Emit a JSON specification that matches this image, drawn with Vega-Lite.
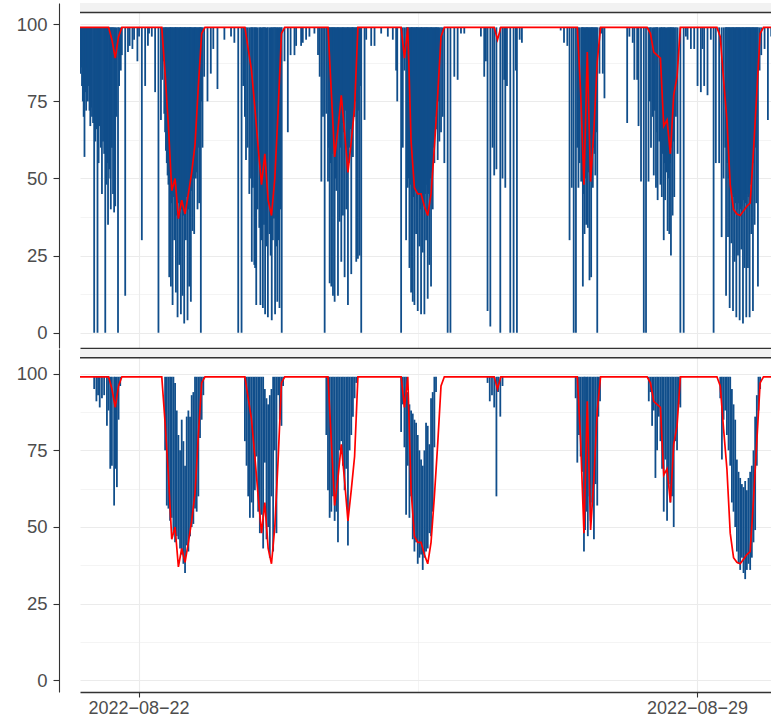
{
"$schema":"https://vega.github.io/schema/vega-lite/v6.json",
"background":"white",
"padding":{"left":16,"top":2,"right":0,"bottom":0},
"autosize":{"type":"pad"},
"spacing":1,
"bounds":"flush",
"resolve":{"scale":{"x":"independent","y":"independent"}},
"config":{"view":{"stroke":null},"axis":{"domainColor":"#333333","domainWidth":1.1,"tickColor":"#333333","tickWidth":1.1,"labelColor":"#4d4d4d","labelFont":"Liberation Sans","labelFontSize":18.5,"gridColor":"#ebebeb","title":null}},
"datasets":{
"red":[
{"t":"2022-08-21T06:24","v":99},{"t":"2022-08-21T15:00","v":99},{"t":"2022-08-21T16:00","v":95},{"t":"2022-08-21T17:00","v":89},{"t":"2022-08-21T18:00","v":96},{"t":"2022-08-21T19:00","v":99},
{"t":"2022-08-22T07:00","v":99},{"t":"2022-08-22T08:00","v":84},{"t":"2022-08-22T09:00","v":67},{"t":"2022-08-22T10:00","v":46},{"t":"2022-08-22T11:00","v":50},{"t":"2022-08-22T12:00","v":37},{"t":"2022-08-22T13:00","v":43},{"t":"2022-08-22T14:00","v":38.5},{"t":"2022-08-22T15:00","v":45},{"t":"2022-08-22T16:00","v":52},{"t":"2022-08-22T17:00","v":61},{"t":"2022-08-22T18:00","v":80},{"t":"2022-08-22T19:00","v":97},{"t":"2022-08-22T20:00","v":99},
{"t":"2022-08-23T08:00","v":99},{"t":"2022-08-23T09:00","v":92},{"t":"2022-08-23T10:00","v":85},{"t":"2022-08-23T11:00","v":73},{"t":"2022-08-23T12:00","v":60},{"t":"2022-08-23T13:00","v":48},{"t":"2022-08-23T14:00","v":58},{"t":"2022-08-23T15:00","v":43},{"t":"2022-08-23T16:00","v":38},{"t":"2022-08-23T17:00","v":50},{"t":"2022-08-23T18:00","v":72},{"t":"2022-08-23T19:00","v":97},{"t":"2022-08-23T20:00","v":99},
{"t":"2022-08-24T09:00","v":99},{"t":"2022-08-24T10:00","v":78},{"t":"2022-08-24T11:00","v":57},{"t":"2022-08-24T12:00","v":66},{"t":"2022-08-24T13:00","v":77},{"t":"2022-08-24T14:00","v":65},{"t":"2022-08-24T15:00","v":52},{"t":"2022-08-24T16:00","v":62},{"t":"2022-08-24T17:00","v":73},{"t":"2022-08-24T18:00","v":99},
{"t":"2022-08-25T07:00","v":99},{"t":"2022-08-25T08:00","v":89},{"t":"2022-08-25T09:00","v":99},{"t":"2022-08-25T10:00","v":62},{"t":"2022-08-25T11:00","v":47},{"t":"2022-08-25T12:00","v":45},{"t":"2022-08-25T13:00","v":45},{"t":"2022-08-25T14:00","v":41},{"t":"2022-08-25T15:00","v":38},{"t":"2022-08-25T16:00","v":45},{"t":"2022-08-25T17:00","v":60},{"t":"2022-08-25T18:00","v":77},{"t":"2022-08-25T19:00","v":96},{"t":"2022-08-25T20:00","v":99},
{"t":"2022-08-26T11:00","v":99},{"t":"2022-08-26T12:00","v":95},{"t":"2022-08-26T13:00","v":99},
{"t":"2022-08-27T12:00","v":99},{"t":"2022-08-27T13:00","v":78},{"t":"2022-08-27T14:00","v":48},{"t":"2022-08-27T15:00","v":91},{"t":"2022-08-27T16:00","v":49},{"t":"2022-08-27T17:00","v":66},{"t":"2022-08-27T18:00","v":88},{"t":"2022-08-27T19:00","v":99},
{"t":"2022-08-28T09:00","v":99},{"t":"2022-08-28T10:00","v":97},{"t":"2022-08-28T11:00","v":91},{"t":"2022-08-28T12:00","v":90},{"t":"2022-08-28T13:00","v":89},{"t":"2022-08-28T14:00","v":67},{"t":"2022-08-28T15:00","v":69},{"t":"2022-08-28T16:00","v":58},{"t":"2022-08-28T17:00","v":77},{"t":"2022-08-28T18:00","v":83},{"t":"2022-08-28T19:00","v":99},
{"t":"2022-08-29T06:00","v":99},{"t":"2022-08-29T07:00","v":96},{"t":"2022-08-29T08:00","v":82},{"t":"2022-08-29T09:00","v":69},{"t":"2022-08-29T10:00","v":48},{"t":"2022-08-29T11:00","v":40},{"t":"2022-08-29T12:00","v":38.5},{"t":"2022-08-29T13:00","v":38},{"t":"2022-08-29T14:00","v":39.5},{"t":"2022-08-29T15:00","v":41},{"t":"2022-08-29T16:00","v":42},{"t":"2022-08-29T17:00","v":59},{"t":"2022-08-29T18:00","v":78},{"t":"2022-08-29T19:00","v":97},{"t":"2022-08-29T20:00","v":99},{"t":"2022-08-29T22:34","v":99}
],
"p1":[
{"t":"2022-08-21T06:30","v":84},{"t":"2022-08-21T06:45","v":86},{"t":"2022-08-21T07:00","v":80},{"t":"2022-08-21T07:15","v":75},{"t":"2022-08-21T07:30","v":70},{"t":"2022-08-21T07:45","v":57},{"t":"2022-08-21T08:00","v":78},{"t":"2022-08-21T08:15","v":72},{"t":"2022-08-21T08:30","v":86},{"t":"2022-08-21T08:45","v":75},{"t":"2022-08-21T09:00","v":80},{"t":"2022-08-21T09:15","v":72},{"t":"2022-08-21T09:30","v":67},{"t":"2022-08-21T09:45","v":73},{"t":"2022-08-21T10:00","v":70},{"t":"2022-08-21T10:20","v":68},{"t":"2022-08-21T10:40","v":0},{"t":"2022-08-21T11:00","v":62},{"t":"2022-08-21T11:20","v":66},{"t":"2022-08-21T11:40","v":0},{"t":"2022-08-21T12:00","v":55},{"t":"2022-08-21T12:20","v":67},{"t":"2022-08-21T12:40","v":60},{"t":"2022-08-21T13:00","v":45},{"t":"2022-08-21T13:20","v":62},{"t":"2022-08-21T13:40","v":58},{"t":"2022-08-21T14:00","v":0},{"t":"2022-08-21T14:20","v":48},{"t":"2022-08-21T14:40","v":55},{"t":"2022-08-21T14:50","v":35},{"t":"2022-08-21T15:10","v":53},{"t":"2022-08-21T15:30","v":50},{"t":"2022-08-21T15:40","v":40},{"t":"2022-08-21T16:00","v":60},{"t":"2022-08-21T16:20","v":45},{"t":"2022-08-21T16:40","v":39},{"t":"2022-08-21T17:00","v":41},{"t":"2022-08-21T17:20","v":70},{"t":"2022-08-21T17:50","v":0},{"t":"2022-08-21T18:10","v":80},{"t":"2022-08-21T18:40","v":85},{"t":"2022-08-21T19:00","v":90},{"t":"2022-08-21T20:00","v":12},{"t":"2022-08-21T20:50","v":91},{"t":"2022-08-21T21:20","v":93},{"t":"2022-08-21T22:10","v":92},{"t":"2022-08-21T22:40","v":95},{"t":"2022-08-21T23:40","v":88},
{"t":"2022-08-22T00:10","v":96},{"t":"2022-08-22T01:00","v":30},{"t":"2022-08-22T02:00","v":80},{"t":"2022-08-22T02:50","v":93},{"t":"2022-08-22T03:10","v":97},{"t":"2022-08-22T04:00","v":96},{"t":"2022-08-22T05:00","v":78},{"t":"2022-08-22T06:00","v":0},{"t":"2022-08-22T06:45","v":69},{"t":"2022-08-22T07:10","v":82},{"t":"2022-08-22T07:30","v":88},
{"t":"2022-08-22T07:45","v":71},{"t":"2022-08-22T08:00","v":65},{"t":"2022-08-22T08:15","v":59},{"t":"2022-08-22T08:30","v":55},{"t":"2022-08-22T08:45","v":51},{"t":"2022-08-22T09:00","v":48},{"t":"2022-08-22T09:15","v":18},{"t":"2022-08-22T09:30","v":45},{"t":"2022-08-22T09:45","v":15},{"t":"2022-08-22T10:00","v":42},{"t":"2022-08-22T10:15","v":9},{"t":"2022-08-22T10:30","v":44},{"t":"2022-08-22T10:45","v":30},{"t":"2022-08-22T11:00","v":40},{"t":"2022-08-22T11:15","v":13},{"t":"2022-08-22T11:30","v":38},{"t":"2022-08-22T11:45","v":5},{"t":"2022-08-22T12:00","v":42},{"t":"2022-08-22T12:15","v":22},{"t":"2022-08-22T12:30","v":36},{"t":"2022-08-22T12:45","v":6},{"t":"2022-08-22T13:00","v":40},{"t":"2022-08-22T13:15","v":12},{"t":"2022-08-22T13:30","v":38},{"t":"2022-08-22T13:45","v":3},{"t":"2022-08-22T14:00","v":41},{"t":"2022-08-22T14:15","v":30},{"t":"2022-08-22T14:30","v":44},{"t":"2022-08-22T14:45","v":4},{"t":"2022-08-22T15:00","v":40},{"t":"2022-08-22T15:15","v":15},{"t":"2022-08-22T15:30","v":43},{"t":"2022-08-22T15:45","v":10},{"t":"2022-08-22T16:00","v":46},{"t":"2022-08-22T16:15","v":33},{"t":"2022-08-22T16:30","v":50},{"t":"2022-08-22T16:45","v":32},{"t":"2022-08-22T17:00","v":55},{"t":"2022-08-22T17:15","v":50},{"t":"2022-08-22T17:30","v":52},{"t":"2022-08-22T17:45","v":40},{"t":"2022-08-22T18:00","v":60},{"t":"2022-08-22T18:15","v":42},{"t":"2022-08-22T18:30","v":65},{"t":"2022-08-22T18:45","v":0},{"t":"2022-08-22T19:00","v":75},{"t":"2022-08-22T19:15","v":60},{"t":"2022-08-22T19:45","v":83},{"t":"2022-08-22T20:45","v":75},{"t":"2022-08-22T21:45","v":84},{"t":"2022-08-22T22:30","v":92},{"t":"2022-08-22T23:45","v":79},
{"t":"2022-08-23T01:50","v":95},{"t":"2022-08-23T03:50","v":96},{"t":"2022-08-23T04:50","v":94},{"t":"2022-08-23T06:00","v":0},{"t":"2022-08-23T07:00","v":0},{"t":"2022-08-23T07:30","v":80},{"t":"2022-08-23T08:00","v":70},{"t":"2022-08-23T08:20","v":56},{"t":"2022-08-23T08:50","v":60},{"t":"2022-08-23T09:20","v":45},{"t":"2022-08-23T09:50","v":50},{"t":"2022-08-23T10:05","v":23},{"t":"2022-08-23T10:25","v":47},{"t":"2022-08-23T10:50","v":22},{"t":"2022-08-23T11:05","v":21},{"t":"2022-08-23T11:25","v":9},{"t":"2022-08-23T11:50","v":40},{"t":"2022-08-23T12:20","v":34},{"t":"2022-08-23T12:40","v":9},{"t":"2022-08-23T13:00","v":30},{"t":"2022-08-23T13:25","v":8},{"t":"2022-08-23T13:45","v":35},{"t":"2022-08-23T14:05","v":6},{"t":"2022-08-23T14:30","v":28},{"t":"2022-08-23T14:55","v":5},{"t":"2022-08-23T15:25","v":32},{"t":"2022-08-23T15:45","v":25},{"t":"2022-08-23T16:05","v":4},{"t":"2022-08-23T16:25","v":30},{"t":"2022-08-23T16:45","v":37},{"t":"2022-08-23T17:05","v":6},{"t":"2022-08-23T17:25","v":28},{"t":"2022-08-23T17:45","v":10},{"t":"2022-08-23T18:05","v":30},{"t":"2022-08-23T18:25","v":8},{"t":"2022-08-23T18:45","v":40},{"t":"2022-08-23T19:05","v":0},{"t":"2022-08-23T19:55","v":88},{"t":"2022-08-23T20:55","v":65},{"t":"2022-08-23T21:45","v":90},{"t":"2022-08-23T22:55","v":90},{"t":"2022-08-23T23:25","v":93},
{"t":"2022-08-24T00:55","v":93},{"t":"2022-08-24T01:25","v":94},{"t":"2022-08-24T02:25","v":95},{"t":"2022-08-24T03:25","v":96},{"t":"2022-08-24T04:55","v":97},{"t":"2022-08-24T06:00","v":90},{"t":"2022-08-24T06:30","v":83},{"t":"2022-08-24T07:00","v":49},{"t":"2022-08-24T07:30","v":70},{"t":"2022-08-24T08:00","v":0},{"t":"2022-08-24T08:30","v":71},{"t":"2022-08-24T09:00","v":49},{"t":"2022-08-24T09:15","v":60},{"t":"2022-08-24T09:30","v":16},{"t":"2022-08-24T09:45","v":55},{"t":"2022-08-24T10:00","v":15},{"t":"2022-08-24T10:15","v":58},{"t":"2022-08-24T10:30","v":12},{"t":"2022-08-24T10:45","v":62},{"t":"2022-08-24T11:00","v":10},{"t":"2022-08-24T11:15","v":50},{"t":"2022-08-24T11:30","v":46},{"t":"2022-08-24T11:45","v":65},{"t":"2022-08-24T12:00","v":12},{"t":"2022-08-24T12:15","v":70},{"t":"2022-08-24T12:30","v":36},{"t":"2022-08-24T12:45","v":60},{"t":"2022-08-24T13:00","v":23},{"t":"2022-08-24T13:15","v":68},{"t":"2022-08-24T13:30","v":38},{"t":"2022-08-24T13:45","v":65},{"t":"2022-08-24T14:00","v":18},{"t":"2022-08-24T14:15","v":72},{"t":"2022-08-24T14:30","v":40},{"t":"2022-08-24T14:45","v":60},{"t":"2022-08-24T15:00","v":9},{"t":"2022-08-24T15:15","v":55},{"t":"2022-08-24T15:30","v":60},{"t":"2022-08-24T15:45","v":66},{"t":"2022-08-24T16:00","v":19},{"t":"2022-08-24T16:15","v":62},{"t":"2022-08-24T16:30","v":57},{"t":"2022-08-24T16:45","v":70},{"t":"2022-08-24T17:00","v":70},{"t":"2022-08-24T17:15","v":75},{"t":"2022-08-24T17:30","v":23},{"t":"2022-08-24T17:45","v":65},{"t":"2022-08-24T18:00","v":24},{"t":"2022-08-24T18:15","v":72},{"t":"2022-08-24T18:30","v":25},{"t":"2022-08-24T18:45","v":80},{"t":"2022-08-24T19:00","v":0},{"t":"2022-08-24T20:00","v":69},{"t":"2022-08-24T20:30","v":95},{"t":"2022-08-24T22:00","v":93},{"t":"2022-08-24T23:00","v":93},
{"t":"2022-08-25T01:00","v":97},{"t":"2022-08-25T03:00","v":96},{"t":"2022-08-25T04:30","v":95},{"t":"2022-08-25T05:30","v":85},{"t":"2022-08-25T05:50","v":75},{"t":"2022-08-25T07:00","v":0},{"t":"2022-08-25T07:30","v":60},{"t":"2022-08-25T08:00","v":85},{"t":"2022-08-25T08:30","v":30},{"t":"2022-08-25T08:45","v":55},{"t":"2022-08-25T09:00","v":47},{"t":"2022-08-25T09:15","v":50},{"t":"2022-08-25T09:30","v":21},{"t":"2022-08-25T09:45","v":48},{"t":"2022-08-25T10:00","v":13},{"t":"2022-08-25T10:15","v":45},{"t":"2022-08-25T10:30","v":10},{"t":"2022-08-25T10:45","v":44},{"t":"2022-08-25T11:00","v":9},{"t":"2022-08-25T11:15","v":46},{"t":"2022-08-25T11:30","v":32},{"t":"2022-08-25T11:45","v":42},{"t":"2022-08-25T12:00","v":7},{"t":"2022-08-25T12:15","v":45},{"t":"2022-08-25T12:30","v":28},{"t":"2022-08-25T12:45","v":40},{"t":"2022-08-25T13:00","v":6},{"t":"2022-08-25T13:15","v":44},{"t":"2022-08-25T13:30","v":26},{"t":"2022-08-25T13:45","v":42},{"t":"2022-08-25T14:00","v":6},{"t":"2022-08-25T14:15","v":45},{"t":"2022-08-25T14:30","v":30},{"t":"2022-08-25T14:45","v":48},{"t":"2022-08-25T15:00","v":11},{"t":"2022-08-25T15:15","v":45},{"t":"2022-08-25T15:30","v":22},{"t":"2022-08-25T15:45","v":50},{"t":"2022-08-25T16:00","v":15},{"t":"2022-08-25T16:15","v":52},{"t":"2022-08-25T16:30","v":40},{"t":"2022-08-25T16:45","v":60},{"t":"2022-08-25T17:00","v":55},{"t":"2022-08-25T17:15","v":70},{"t":"2022-08-25T17:30","v":66},{"t":"2022-08-25T17:45","v":72},{"t":"2022-08-25T18:00","v":56},{"t":"2022-08-25T18:15","v":75},{"t":"2022-08-25T18:30","v":62},{"t":"2022-08-25T19:00","v":65},{"t":"2022-08-25T19:30","v":70},{"t":"2022-08-25T20:00","v":55},{"t":"2022-08-25T21:00","v":0},{"t":"2022-08-25T21:50","v":0},{"t":"2022-08-25T23:00","v":83},
{"t":"2022-08-26T00:00","v":82},{"t":"2022-08-26T01:00","v":97},{"t":"2022-08-26T02:00","v":97},{"t":"2022-08-26T07:00","v":96},{"t":"2022-08-26T08:00","v":83},{"t":"2022-08-26T08:30","v":88},{"t":"2022-08-26T09:00","v":7},{"t":"2022-08-26T09:50","v":2},{"t":"2022-08-26T10:30","v":60},{"t":"2022-08-26T11:00","v":51},{"t":"2022-08-26T11:40","v":53},{"t":"2022-08-26T12:50","v":0},{"t":"2022-08-26T13:30","v":50},{"t":"2022-08-26T14:00","v":82},{"t":"2022-08-26T14:20","v":47},{"t":"2022-08-26T14:50","v":80},{"t":"2022-08-26T15:50","v":0},{"t":"2022-08-26T16:50","v":0},{"t":"2022-08-26T17:30","v":85},{"t":"2022-08-26T17:50","v":0},{"t":"2022-08-26T18:40","v":95},{"t":"2022-08-26T19:20","v":94},
{"t":"2022-08-27T07:00","v":98},{"t":"2022-08-27T08:00","v":94},{"t":"2022-08-27T09:00","v":93},{"t":"2022-08-27T09:40","v":30},{"t":"2022-08-27T10:20","v":47},{"t":"2022-08-27T10:55","v":0},{"t":"2022-08-27T11:35","v":0},{"t":"2022-08-27T12:00","v":60},{"t":"2022-08-27T12:20","v":47},{"t":"2022-08-27T12:40","v":55},{"t":"2022-08-27T13:10","v":49},{"t":"2022-08-27T13:25","v":50},{"t":"2022-08-27T13:40","v":15},{"t":"2022-08-27T13:55","v":45},{"t":"2022-08-27T14:10","v":32},{"t":"2022-08-27T14:25","v":50},{"t":"2022-08-27T14:40","v":35},{"t":"2022-08-27T14:55","v":48},{"t":"2022-08-27T15:10","v":34},{"t":"2022-08-27T15:25","v":52},{"t":"2022-08-27T15:40","v":17},{"t":"2022-08-27T15:55","v":50},{"t":"2022-08-27T16:10","v":18},{"t":"2022-08-27T16:25","v":55},{"t":"2022-08-27T16:40","v":47},{"t":"2022-08-27T16:55","v":60},{"t":"2022-08-27T17:10","v":58},{"t":"2022-08-27T17:25","v":51},{"t":"2022-08-27T17:40","v":65},{"t":"2022-08-27T18:00","v":0},{"t":"2022-08-27T18:40","v":84},{"t":"2022-08-27T19:10","v":97},{"t":"2022-08-27T19:40","v":84},{"t":"2022-08-27T20:10","v":76},
{"t":"2022-08-28T03:00","v":68},{"t":"2022-08-28T03:40","v":96},{"t":"2022-08-28T04:40","v":94},{"t":"2022-08-28T05:10","v":82},{"t":"2022-08-28T06:00","v":82},{"t":"2022-08-28T06:25","v":67},{"t":"2022-08-28T07:10","v":49},{"t":"2022-08-28T08:00","v":0},{"t":"2022-08-28T08:40","v":0},{"t":"2022-08-28T09:25","v":49},{"t":"2022-08-28T09:50","v":75},{"t":"2022-08-28T10:10","v":60},{"t":"2022-08-28T10:40","v":70},{"t":"2022-08-28T11:00","v":51},{"t":"2022-08-28T11:20","v":72},{"t":"2022-08-28T11:40","v":47},{"t":"2022-08-28T12:00","v":65},{"t":"2022-08-28T12:10","v":43},{"t":"2022-08-28T12:40","v":62},{"t":"2022-08-28T13:00","v":48},{"t":"2022-08-28T13:15","v":60},{"t":"2022-08-28T13:25","v":44},{"t":"2022-08-28T13:40","v":58},{"t":"2022-08-28T14:00","v":30},{"t":"2022-08-28T14:10","v":55},{"t":"2022-08-28T14:25","v":43},{"t":"2022-08-28T14:50","v":52},{"t":"2022-08-28T15:10","v":33},{"t":"2022-08-28T15:25","v":50},{"t":"2022-08-28T15:40","v":32},{"t":"2022-08-28T15:55","v":55},{"t":"2022-08-28T16:10","v":25},{"t":"2022-08-28T16:25","v":60},{"t":"2022-08-28T16:40","v":38},{"t":"2022-08-28T16:55","v":62},{"t":"2022-08-28T17:10","v":44},{"t":"2022-08-28T17:40","v":70},{"t":"2022-08-28T18:10","v":58},{"t":"2022-08-28T19:00","v":0},{"t":"2022-08-28T20:00","v":0},{"t":"2022-08-28T20:40","v":96},{"t":"2022-08-28T21:10","v":95},{"t":"2022-08-28T22:10","v":92},{"t":"2022-08-28T23:10","v":92},
{"t":"2022-08-29T00:10","v":80},{"t":"2022-08-29T01:10","v":78},{"t":"2022-08-29T01:40","v":92},{"t":"2022-08-29T02:10","v":80},{"t":"2022-08-29T03:10","v":77},{"t":"2022-08-29T04:10","v":95},{"t":"2022-08-29T05:00","v":0},{"t":"2022-08-29T05:40","v":55},{"t":"2022-08-29T06:40","v":55},{"t":"2022-08-29T07:25","v":31},{"t":"2022-08-29T08:00","v":50},{"t":"2022-08-29T08:30","v":60},{"t":"2022-08-29T08:45","v":12},{"t":"2022-08-29T09:00","v":55},{"t":"2022-08-29T09:20","v":31},{"t":"2022-08-29T09:30","v":50},{"t":"2022-08-29T09:50","v":8},{"t":"2022-08-29T10:00","v":48},{"t":"2022-08-29T10:20","v":29},{"t":"2022-08-29T10:30","v":45},{"t":"2022-08-29T10:50","v":7},{"t":"2022-08-29T11:00","v":44},{"t":"2022-08-29T11:20","v":23},{"t":"2022-08-29T11:30","v":42},{"t":"2022-08-29T11:50","v":5},{"t":"2022-08-29T12:00","v":40},{"t":"2022-08-29T12:20","v":25},{"t":"2022-08-29T12:30","v":42},{"t":"2022-08-29T12:50","v":4},{"t":"2022-08-29T13:00","v":40},{"t":"2022-08-29T13:20","v":27},{"t":"2022-08-29T13:30","v":41},{"t":"2022-08-29T13:50","v":3},{"t":"2022-08-29T14:00","v":43},{"t":"2022-08-29T14:20","v":21},{"t":"2022-08-29T14:30","v":42},{"t":"2022-08-29T14:50","v":5},{"t":"2022-08-29T15:00","v":45},{"t":"2022-08-29T15:20","v":21},{"t":"2022-08-29T15:30","v":44},{"t":"2022-08-29T15:50","v":5},{"t":"2022-08-29T16:00","v":48},{"t":"2022-08-29T16:20","v":32},{"t":"2022-08-29T16:30","v":50},{"t":"2022-08-29T16:50","v":7},{"t":"2022-08-29T17:00","v":55},{"t":"2022-08-29T17:20","v":35},{"t":"2022-08-29T17:30","v":60},{"t":"2022-08-29T17:50","v":42},{"t":"2022-08-29T18:00","v":70},{"t":"2022-08-29T18:20","v":15},{"t":"2022-08-29T18:50","v":85},{"t":"2022-08-29T19:20","v":90},{"t":"2022-08-29T20:20","v":92},{"t":"2022-08-29T21:20","v":69},{"t":"2022-08-29T22:20","v":96}
],
"p2":[
{"t":"2022-08-21T10:40","lo":95,"hi":99},{"t":"2022-08-21T11:20","lo":91,"hi":99},{"t":"2022-08-21T11:50","lo":93,"hi":99},{"t":"2022-08-21T12:20","lo":89,"hi":99},{"t":"2022-08-21T13:00","lo":92,"hi":99},{"t":"2022-08-21T13:40","lo":93,"hi":99},{"t":"2022-08-21T14:30","lo":83,"hi":99},{"t":"2022-08-21T15:00","lo":88,"hi":99},{"t":"2022-08-21T15:30","lo":69,"hi":99},{"t":"2022-08-21T16:00","lo":70,"hi":99},{"t":"2022-08-21T16:40","lo":57,"hi":99},{"t":"2022-08-21T17:00","lo":69,"hi":99},{"t":"2022-08-21T17:30","lo":63,"hi":99},{"t":"2022-08-21T18:00","lo":85,"hi":99},{"t":"2022-08-21T18:30","lo":96,"hi":99},
{"t":"2022-08-22T08:00","lo":75,"hi":99},{"t":"2022-08-22T08:30","lo":57,"hi":99},{"t":"2022-08-22T09:00","lo":56,"hi":99},{"t":"2022-08-22T09:30","lo":52,"hi":99},{"t":"2022-08-22T10:00","lo":53,"hi":99},{"t":"2022-08-22T10:30","lo":48,"hi":99},{"t":"2022-08-22T11:00","lo":45,"hi":97},{"t":"2022-08-22T11:30","lo":47,"hi":88},{"t":"2022-08-22T12:00","lo":46,"hi":80},{"t":"2022-08-22T12:30","lo":43,"hi":75},{"t":"2022-08-22T13:00","lo":41,"hi":85},{"t":"2022-08-22T13:30","lo":38,"hi":78},{"t":"2022-08-22T14:00","lo":35,"hi":70},{"t":"2022-08-22T14:30","lo":44,"hi":86},{"t":"2022-08-22T15:00","lo":42,"hi":88},{"t":"2022-08-22T15:30","lo":47,"hi":86},{"t":"2022-08-22T16:00","lo":50,"hi":93},{"t":"2022-08-22T16:30","lo":51,"hi":94},{"t":"2022-08-22T17:00","lo":56,"hi":99},{"t":"2022-08-22T17:30","lo":55,"hi":99},{"t":"2022-08-22T18:00","lo":60,"hi":99},{"t":"2022-08-22T18:30","lo":79,"hi":99},{"t":"2022-08-22T19:00","lo":85,"hi":99},{"t":"2022-08-22T19:30","lo":93,"hi":99},
{"t":"2022-08-23T08:00","lo":78,"hi":99},{"t":"2022-08-23T08:30","lo":70,"hi":99},{"t":"2022-08-23T09:00","lo":60,"hi":99},{"t":"2022-08-23T09:30","lo":53,"hi":99},{"t":"2022-08-23T10:00","lo":58,"hi":99},{"t":"2022-08-23T10:30","lo":53,"hi":99},{"t":"2022-08-23T11:00","lo":62,"hi":99},{"t":"2022-08-23T11:30","lo":73,"hi":99},{"t":"2022-08-23T12:00","lo":55,"hi":99},{"t":"2022-08-23T12:30","lo":48,"hi":99},{"t":"2022-08-23T13:00","lo":54,"hi":99},{"t":"2022-08-23T13:30","lo":43,"hi":99},{"t":"2022-08-23T14:00","lo":71,"hi":95},{"t":"2022-08-23T14:30","lo":46,"hi":92},{"t":"2022-08-23T15:00","lo":50,"hi":90},{"t":"2022-08-23T15:30","lo":40,"hi":93},{"t":"2022-08-23T16:00","lo":60,"hi":95},{"t":"2022-08-23T16:30","lo":42,"hi":99},{"t":"2022-08-23T17:00","lo":75,"hi":99},{"t":"2022-08-23T17:30","lo":48,"hi":99},{"t":"2022-08-23T18:00","lo":93,"hi":99},{"t":"2022-08-23T18:30","lo":85,"hi":99},{"t":"2022-08-23T19:00","lo":83,"hi":99},{"t":"2022-08-23T19:30","lo":96,"hi":99},
{"t":"2022-08-24T08:30","lo":80,"hi":99},{"t":"2022-08-24T09:00","lo":62,"hi":99},{"t":"2022-08-24T09:30","lo":53,"hi":99},{"t":"2022-08-24T10:00","lo":55,"hi":99},{"t":"2022-08-24T10:30","lo":60,"hi":99},{"t":"2022-08-24T11:00","lo":52,"hi":99},{"t":"2022-08-24T11:30","lo":55,"hi":99},{"t":"2022-08-24T12:00","lo":45,"hi":99},{"t":"2022-08-24T12:30","lo":75,"hi":99},{"t":"2022-08-24T13:00","lo":78,"hi":99},{"t":"2022-08-24T13:30","lo":70,"hi":99},{"t":"2022-08-24T14:00","lo":62,"hi":99},{"t":"2022-08-24T14:30","lo":69,"hi":99},{"t":"2022-08-24T15:00","lo":44,"hi":99},{"t":"2022-08-24T15:30","lo":75,"hi":99},{"t":"2022-08-24T16:00","lo":80,"hi":99},{"t":"2022-08-24T16:30","lo":86,"hi":99},{"t":"2022-08-24T17:00","lo":92,"hi":99},{"t":"2022-08-24T17:30","lo":97,"hi":99},
{"t":"2022-08-25T07:00","lo":81,"hi":99},{"t":"2022-08-25T07:30","lo":90,"hi":99},{"t":"2022-08-25T08:00","lo":76,"hi":99},{"t":"2022-08-25T08:30","lo":54,"hi":99},{"t":"2022-08-25T09:00","lo":70,"hi":94},{"t":"2022-08-25T09:30","lo":53,"hi":90},{"t":"2022-08-25T10:00","lo":60,"hi":88},{"t":"2022-08-25T10:30","lo":46,"hi":87},{"t":"2022-08-25T11:00","lo":42,"hi":85},{"t":"2022-08-25T11:30","lo":45,"hi":84},{"t":"2022-08-25T12:00","lo":38,"hi":80},{"t":"2022-08-25T12:30","lo":40,"hi":75},{"t":"2022-08-25T13:00","lo":41,"hi":72},{"t":"2022-08-25T13:30","lo":36,"hi":70},{"t":"2022-08-25T14:00","lo":40,"hi":75},{"t":"2022-08-25T14:30","lo":42,"hi":84},{"t":"2022-08-25T15:00","lo":43,"hi":83},{"t":"2022-08-25T15:30","lo":48,"hi":77},{"t":"2022-08-25T16:00","lo":47,"hi":92},{"t":"2022-08-25T16:30","lo":55,"hi":94},{"t":"2022-08-25T17:00","lo":76,"hi":99},{"t":"2022-08-25T17:30","lo":94,"hi":99},
{"t":"2022-08-26T09:00","lo":97,"hi":99},{"t":"2022-08-26T09:40","lo":91,"hi":99},{"t":"2022-08-26T10:20","lo":93,"hi":99},{"t":"2022-08-26T11:00","lo":89,"hi":99},{"t":"2022-08-26T11:40","lo":60,"hi":99},{"t":"2022-08-26T12:10","lo":94,"hi":99},{"t":"2022-08-26T12:50","lo":86,"hi":99},{"t":"2022-08-26T13:30","lo":96,"hi":99},
{"t":"2022-08-27T11:30","lo":92,"hi":99},{"t":"2022-08-27T12:00","lo":71,"hi":99},{"t":"2022-08-27T12:30","lo":80,"hi":99},{"t":"2022-08-27T13:00","lo":73,"hi":99},{"t":"2022-08-27T13:30","lo":68,"hi":99},{"t":"2022-08-27T14:00","lo":42,"hi":99},{"t":"2022-08-27T14:20","lo":49,"hi":99},{"t":"2022-08-27T14:50","lo":55,"hi":99},{"t":"2022-08-27T15:10","lo":47,"hi":99},{"t":"2022-08-27T15:40","lo":60,"hi":99},{"t":"2022-08-27T16:00","lo":52,"hi":99},{"t":"2022-08-27T16:30","lo":58,"hi":99},{"t":"2022-08-27T17:00","lo":46,"hi":99},{"t":"2022-08-27T17:30","lo":64,"hi":99},{"t":"2022-08-27T18:00","lo":57,"hi":99},{"t":"2022-08-27T18:20","lo":86,"hi":99},{"t":"2022-08-27T18:50","lo":91,"hi":99},
{"t":"2022-08-28T09:30","lo":91,"hi":99},{"t":"2022-08-28T10:00","lo":94,"hi":99},{"t":"2022-08-28T10:30","lo":83,"hi":99},{"t":"2022-08-28T11:00","lo":88,"hi":99},{"t":"2022-08-28T11:30","lo":66,"hi":99},{"t":"2022-08-28T12:00","lo":75,"hi":99},{"t":"2022-08-28T12:30","lo":86,"hi":99},{"t":"2022-08-28T13:00","lo":78,"hi":99},{"t":"2022-08-28T13:30","lo":69,"hi":99},{"t":"2022-08-28T14:00","lo":55,"hi":99},{"t":"2022-08-28T14:30","lo":72,"hi":99},{"t":"2022-08-28T15:00","lo":52,"hi":99},{"t":"2022-08-28T15:30","lo":64,"hi":99},{"t":"2022-08-28T16:00","lo":58,"hi":99},{"t":"2022-08-28T16:30","lo":60,"hi":99},{"t":"2022-08-28T17:00","lo":50,"hi":99},{"t":"2022-08-28T17:30","lo":78,"hi":99},{"t":"2022-08-28T18:00","lo":75,"hi":99},{"t":"2022-08-28T18:30","lo":90,"hi":99},{"t":"2022-08-28T19:00","lo":89,"hi":99},
{"t":"2022-08-29T07:00","lo":92,"hi":99},{"t":"2022-08-29T07:30","lo":72,"hi":99},{"t":"2022-08-29T08:00","lo":85,"hi":99},{"t":"2022-08-29T08:30","lo":88,"hi":99},{"t":"2022-08-29T09:00","lo":80,"hi":99},{"t":"2022-08-29T09:30","lo":75,"hi":99},{"t":"2022-08-29T10:00","lo":70,"hi":99},{"t":"2022-08-29T10:30","lo":58,"hi":95},{"t":"2022-08-29T11:00","lo":55,"hi":90},{"t":"2022-08-29T11:30","lo":50,"hi":85},{"t":"2022-08-29T12:00","lo":42,"hi":72},{"t":"2022-08-29T12:30","lo":38,"hi":68},{"t":"2022-08-29T13:00","lo":36,"hi":66},{"t":"2022-08-29T13:30","lo":40,"hi":64},{"t":"2022-08-29T14:00","lo":35,"hi":63},{"t":"2022-08-29T14:30","lo":33,"hi":65},{"t":"2022-08-29T15:00","lo":36,"hi":62},{"t":"2022-08-29T15:30","lo":38,"hi":66},{"t":"2022-08-29T16:00","lo":36,"hi":68},{"t":"2022-08-29T16:30","lo":40,"hi":70},{"t":"2022-08-29T17:00","lo":45,"hi":75},{"t":"2022-08-29T17:30","lo":49,"hi":86},{"t":"2022-08-29T18:00","lo":70,"hi":93},{"t":"2022-08-29T18:30","lo":88,"hi":99},{"t":"2022-08-29T19:00","lo":95,"hi":99}
]
},
"vconcat":[
{"width":692,"height":345,
"layer":[
{"data":{"name":"p1"},"mark":{"type":"rule","color":"#104E8B","strokeWidth":1.8,"clip":true},
"encoding":{
"x":{"field":"t","type":"temporal","scale":{"domain":[{"year":2022,"month":8,"date":21,"hours":6,"minutes":24},{"year":2022,"month":8,"date":29,"hours":22,"minutes":34}]},
"axis":{"values":[{"year":2022,"month":8,"date":22},{"year":2022,"month":8,"date":25,"hours":12},{"year":2022,"month":8,"date":29}],"labels":false,"ticks":false,"domainWidth":1.3,"gridWidth":{"condition":{"test":"hours(datum.value) == 12","value":0.55},"value":1.1}}},
"y":{"field":"v","type":"quantitative","scale":{"domain":[-4.96,106.9],"nice":false,"zero":false},
"axis":{"values":[0,12.5,25,37.5,50,62.5,75,87.5,100],"offset":21,"tickSize":6,"labelPadding":6,"labelExpr":"datum.value % 25 == 0 ? format(datum.value, 'd') : ''","tickOpacity":{"condition":{"test":"datum.value % 25 != 0","value":0},"value":1},"gridWidth":{"condition":{"test":"datum.value % 25 != 0","value":0.55},"value":1.1}}},
"y2":{"datum":99}}},
{"data":{"name":"red"},"mark":{"type":"line","color":"#ff0000","strokeWidth":1.7,"clip":true},
"encoding":{"x":{"field":"t","type":"temporal"},"y":{"field":"v","type":"quantitative"}}},
{"data":{"values":[{}]},"mark":{"type":"rule","color":"#f2f2f2","strokeWidth":9.6},"encoding":{"y":{"datum":105.35}}},
{"data":{"values":[{}]},"mark":{"type":"rule","color":"#333333","strokeWidth":1.5},"encoding":{"y":{"datum":103.8}}}
]},
{"width":692,"height":343,
"layer":[
{"data":{"name":"p2"},"mark":{"type":"rule","color":"#104E8B","strokeWidth":1.8,"clip":true},
"encoding":{
"x":{"field":"t","type":"temporal","scale":{"domain":[{"year":2022,"month":8,"date":21,"hours":6,"minutes":24},{"year":2022,"month":8,"date":29,"hours":22,"minutes":34}]},
"axis":{"values":[{"year":2022,"month":8,"date":22},{"year":2022,"month":8,"date":25,"hours":12},{"year":2022,"month":8,"date":29}],"tickSize":5,"labelPadding":2,"labelFontSize":18,"domainWidth":1.3,"labelExpr":"hours(datum.value) == 12 ? '' : replace(replace(timeFormat(datum.value, '%Y-%m-%d'), '-', '−'), '-', '−')","tickOpacity":{"condition":{"test":"hours(datum.value) == 12","value":0},"value":1},"gridWidth":{"condition":{"test":"hours(datum.value) == 12","value":0.55},"value":1.1}}},
"y":{"field":"lo","type":"quantitative","scale":{"domain":[-3.82,108.06],"nice":false,"zero":false},
"axis":{"values":[0,12.5,25,37.5,50,62.5,75,87.5,100],"offset":21,"tickSize":6,"labelPadding":6,"labelExpr":"datum.value % 25 == 0 ? format(datum.value, 'd') : ''","tickOpacity":{"condition":{"test":"datum.value % 25 != 0","value":0},"value":1},"gridWidth":{"condition":{"test":"datum.value % 25 != 0","value":0.55},"value":1.1}}},
"y2":{"field":"hi"}}},
{"data":{"name":"red"},"mark":{"type":"line","color":"#ff0000","strokeWidth":1.7,"clip":true},
"encoding":{"x":{"field":"t","type":"temporal"},"y":{"field":"v","type":"quantitative"}}},
{"data":{"values":[{}]},"mark":{"type":"rule","color":"#f2f2f2","strokeWidth":8.8},"encoding":{"y":{"datum":106.63}}},
{"data":{"values":[{}]},"mark":{"type":"rule","color":"#333333","strokeWidth":1.5},"encoding":{"y":{"datum":105.2}}}
]}
]
}
